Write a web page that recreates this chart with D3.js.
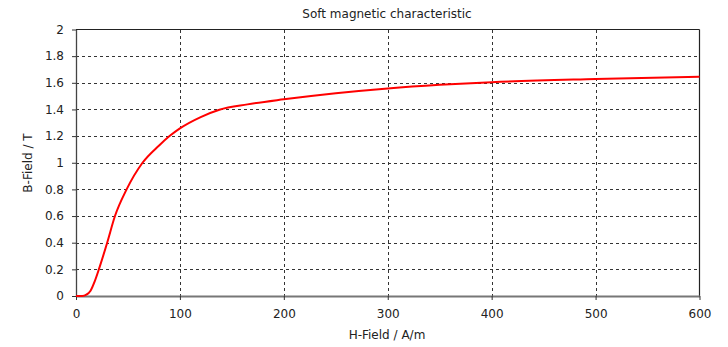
<!DOCTYPE html>
<html>
<head>
<meta charset="utf-8">
<script src="https://cdn.jsdelivr.net/npm/d3@7"></script>
<style>
  html, body { margin: 0; padding: 0; background: #fff; }
  svg { display: block; font-family: "DejaVu Sans", Verdana, sans-serif; }
</style>
</head>
<body>
<svg id="chart" width="728" height="347"></svg>
<script>
// Magnetisation curve of a soft magnetic material: field strength H (A/m) vs flux density B (T)
const hField = [0, 6, 10, 14, 18, 22, 30, 37.5, 48.7, 64, 80, 90, 100, 120, 138, 165, 200, 250,
                300, 350, 400, 500, 600];
const bField = [0, 0, 0.01, 0.04, 0.11, 0.2, 0.4, 0.6, 0.8, 1.0, 1.13, 1.2, 1.258, 1.343, 1.398,
                1.438, 1.476, 1.522, 1.558, 1.585, 1.605, 1.628, 1.645];
const xTicks = [0, 100, 200, 300, 400, 500, 600];
const yTicks = [0, 0.2, 0.4, 0.6, 0.8, 1, 1.2, 1.4, 1.6, 1.8, 2];

const svg = d3.select("#chart");
const plotL = 76, plotR = 699.5, plotT = 29.5, plotB = 296;

const x = d3.scaleLinear().domain([0, 600]).range([plotL, plotR]);
const y = d3.scaleLinear().domain([0, 2]).range([plotB, plotT]);

const textColor = "#222";

// dashed grid
const grid = svg.append("g").attr("stroke", "#333").attr("stroke-width", 1)
  .attr("stroke-dasharray", "3,3").attr("shape-rendering", "crispEdges");
grid.selectAll("line.v").data(xTicks.filter(d => d > 0 && d < 600)).join("line")
  .attr("class", "v")
  .attr("x1", d => Math.round(x(d)) + 0.5).attr("x2", d => Math.round(x(d)) + 0.5)
  .attr("y1", plotT).attr("y2", plotB);
grid.selectAll("line.h").data(yTicks.filter(d => d > 0 && d < 2)).join("line")
  .attr("class", "h")
  .attr("x1", plotL).attr("x2", plotR)
  .attr("y1", d => Math.round(y(d)) + 0.5).attr("y2", d => Math.round(y(d)) + 0.5);

// frame
svg.append("line").attr("x1", plotL).attr("x2", plotR).attr("y1", plotT).attr("y2", plotT)
  .attr("stroke", "#222").attr("stroke-width", 1.2);
svg.append("line").attr("x1", plotR).attr("x2", plotR).attr("y1", plotT).attr("y2", plotB)
  .attr("stroke", "#222").attr("stroke-width", 1.2);

// axes
const xAxis = svg.append("g").attr("transform", `translate(0,${plotB})`)
  .call(d3.axisBottom(x).tickValues(xTicks).tickSize(4).tickSizeOuter(0).tickPadding(9));
const yAxis = svg.append("g").attr("transform", `translate(${plotL},0)`)
  .call(d3.axisLeft(y).tickValues(yTicks).tickSize(4).tickSizeOuter(0).tickPadding(8)
    .tickFormat(d => d3.format("~g")(d)));

xAxis.select(".domain").attr("stroke", "#777").attr("stroke-width", 2);
yAxis.select(".domain").attr("stroke", "#444").attr("stroke-width", 1.3);
[xAxis, yAxis].forEach(g => {
  g.selectAll(".tick line").attr("stroke", "#333");
  g.selectAll(".tick text").attr("fill", textColor)
    .style("font-family", "'DejaVu Sans', Verdana, sans-serif").style("font-size", "12px");
});

// curve
const pts = hField.map((h, i) => [h, bField[i]]);
svg.append("path").datum(pts)
  .attr("fill", "none").attr("stroke", "#ff0000").attr("stroke-width", 2)
  .attr("d", d3.line().x(d => x(d[0])).y(d => y(d[1])).curve(d3.curveMonotoneX));

// titles
svg.append("text").attr("x", 387).attr("y", 18).attr("text-anchor", "middle")
  .attr("fill", textColor).style("font-size", "12px").text("Soft magnetic characteristic");
svg.append("text").attr("x", 387).attr("y", 339).attr("text-anchor", "middle")
  .attr("fill", textColor).style("font-size", "12px").text("H-Field / A/m");
svg.append("text").attr("transform", "translate(32,163) rotate(-90)").attr("text-anchor", "middle")
  .attr("fill", textColor).style("font-size", "12px").text("B-Field / T");
</script>
</body>
</html>
